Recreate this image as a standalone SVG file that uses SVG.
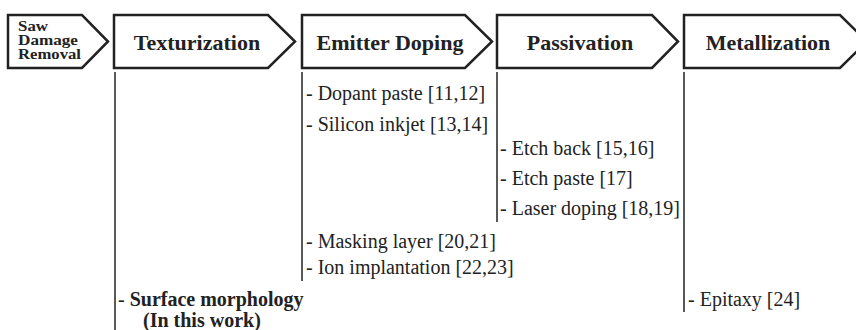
<svg xmlns="http://www.w3.org/2000/svg" width="856" height="330" viewBox="0 0 856 330">
<style>
.box{fill:#fff;stroke:#222;stroke-width:2.5;stroke-linejoin:miter}
.title{font-family:"Liberation Serif","Times New Roman",serif;font-weight:bold;font-size:22px;fill:#222;text-anchor:middle}
.small{font-family:"Liberation Serif","Times New Roman",serif;font-weight:bold;font-size:14px;fill:#222}
.item{font-family:"Liberation Serif","Times New Roman",serif;font-size:20px;fill:#222}
.b{font-weight:bold}
.vl{stroke:#222;stroke-width:1.5;fill:none}
</style>
<rect width="856" height="330" fill="#fff"/>
<g id="saw">
<polygon class="box" points="8,15 82,15 108,41.5 82,68 8,68"/>
<text class="small" x="18" y="31" textLength="30" lengthAdjust="spacingAndGlyphs">Saw</text>
<text class="small" x="18" y="45" textLength="60" lengthAdjust="spacingAndGlyphs">Damage</text>
<text class="small" x="18" y="59" textLength="63" lengthAdjust="spacingAndGlyphs">Removal</text>
</g>
<g id="texturization">
<polygon class="box" points="114,15 268,15 295,41.5 268,68 114,68"/>
<text class="title" x="197" y="50">Texturization</text>
</g>
<g id="emitter">
<polygon class="box" points="302,15 465,15 492,41.5 465,68 302,68"/>
<text class="title" x="390" y="50">Emitter Doping</text>
</g>
<g id="passivation">
<polygon class="box" points="497,15 652,15 678,41.5 652,68 497,68"/>
<text class="title" x="580" y="50">Passivation</text>
</g>
<g id="metallization">
<polygon class="box" points="684,15 840,15 867,41.5 840,68 684,68"/>
<text class="title" x="768" y="50">Metallization</text>
</g>
<g id="connectors">
<line class="vl" x1="115" y1="72" x2="115" y2="330"/>
<line class="vl" x1="302" y1="72" x2="302" y2="281"/>
<line class="vl" x1="497" y1="72" x2="497" y2="222"/>
<line class="vl" x1="684" y1="72" x2="684" y2="312"/>
</g>
<g id="items">
<text class="item" x="306" y="100">- Dopant paste [11,12]</text>
<text class="item" x="306" y="131">- Silicon inkjet [13,14]</text>
<text class="item" x="500" y="155">- Etch back [15,16]</text>
<text class="item" x="500" y="185">- Etch paste [17]</text>
<text class="item" x="500" y="215">- Laser doping [18,19]</text>
<text class="item" x="306" y="248">- Masking layer [20,21]</text>
<text class="item" x="306" y="274">- Ion implantation [22,23]</text>
<text class="item" x="118" y="306">- <tspan class="b">Surface morphology</tspan></text>
<text class="item b" x="143" y="327">(In this work)</text>
<text class="item" x="688" y="306">- Epitaxy [24]</text>
</g>
</svg>
